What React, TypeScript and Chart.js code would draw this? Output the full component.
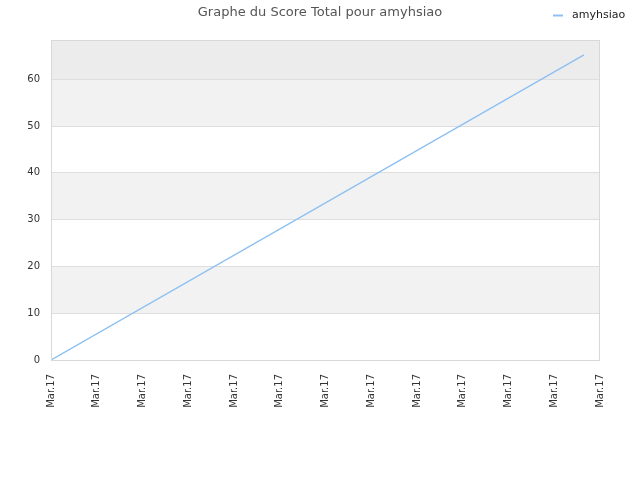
import React, { useEffect, useRef } from "react";
import { Chart, registerables } from "chart.js";

Chart.register(...registerables);

const titleText = "Graphe du Score Total pour amyhsiao";
const seriesName = "amyhsiao";
const tickLabels = [
  "Mar.17", "Mar.17", "Mar.17", "Mar.17", "Mar.17", "Mar.17", "Mar.17",
  "Mar.17", "Mar.17", "Mar.17", "Mar.17", "Mar.17", "Mar.17",
];
const xPositions = [0, 11.65];
const scores = [0, 65.2];
const yMax = 68.4;
const bandEdges = [10, 20, 30, 40, 50, 60];

const FONT = "'DejaVu Sans', sans-serif";
const LINE_COLOR = "#8cc0f2";

const decorPlugin = {
  id: "decor",
  beforeDraw(chart: any) {
    const { ctx, chartArea } = chart;
    const y = chart.scales.y;
    ctx.save();
    ctx.fillStyle = "#ffffff";
    ctx.fillRect(chartArea.left, chartArea.top, chartArea.right - chartArea.left, chartArea.bottom - chartArea.top);
    ctx.fillStyle = "#f2f2f2";
    for (let i = 0; i < bandEdges.length; i += 2) {
      const y1 = y.getPixelForValue(bandEdges[i]);
      const y2 = y.getPixelForValue(bandEdges[i + 1]);
      ctx.fillRect(chartArea.left, y2, chartArea.right - chartArea.left, y1 - y2);
    }
    ctx.fillStyle = "#ececec";
    const yTop = y.getPixelForValue(60);
    ctx.fillRect(chartArea.left, chartArea.top, chartArea.right - chartArea.left, yTop - chartArea.top);
    ctx.restore();
  },
  afterDraw(chart: any) {
    const { ctx, chartArea } = chart;
    ctx.save();
    ctx.strokeStyle = "#d8d8d8";
    ctx.lineWidth = 1;
    ctx.strokeRect(chartArea.left + 0.5, chartArea.top + 0.5, chartArea.right - chartArea.left - 1, chartArea.bottom - chartArea.top);
    // title
    ctx.fillStyle = "#555555";
    ctx.font = `13px ${FONT}`;
    ctx.textAlign = "center";
    ctx.textBaseline = "middle";
    ctx.fillText(titleText, 320, 12.5);
    // legend
    ctx.strokeStyle = LINE_COLOR;
    ctx.lineWidth = 2;
    ctx.beginPath();
    ctx.moveTo(553, 15.5);
    ctx.lineTo(563, 15.5);
    ctx.stroke();
    ctx.fillStyle = "#222222";
    ctx.font = `11px ${FONT}`;
    ctx.textAlign = "left";
    ctx.fillText(seriesName, 572, 15);
    ctx.restore();
  },
};

export default function App() {
  const ref = useRef<HTMLCanvasElement>(null);
  useEffect(() => {
    if (!ref.current) return;
    const chart = new Chart(ref.current, {
      type: "line",
      data: {
        datasets: [
          {
            label: seriesName,
            data: xPositions.map((x, i) => ({ x, y: scores[i] })),
            borderColor: LINE_COLOR,
            borderWidth: 1.4,
            pointRadius: 0,
            fill: false,
            tension: 0,
          },
        ],
      },
      options: {
        responsive: false,
        animation: false,
        devicePixelRatio: 1,
        layout: { padding: { left: 0, top: 40, right: 40, bottom: 0 } },
        plugins: {
          legend: { display: false },
          title: { display: false },
          tooltip: { enabled: false },
        },
        scales: {
          x: {
            type: "linear",
            min: 0,
            max: 12,
            grid: { display: false, drawTicks: false },
            border: { display: false },
            afterFit(scale: any) {
              scale.height = 120;
            },
            ticks: {
              stepSize: 1,
              autoSkip: false,
              minRotation: 90,
              maxRotation: 90,
              padding: 14,
              color: "#333333",
              font: { family: FONT, size: 10 },
              callback: (_v: any, i: number) => tickLabels[i],
            },
          },
          y: {
            min: 0,
            max: yMax,
            grid: { color: "#dedede", drawTicks: false },
            border: { display: false },
            afterFit(scale: any) {
              scale.width = 51;
            },
            ticks: {
              stepSize: 10,
              includeBounds: false,
              padding: 11,
              color: "#333333",
              font: { family: FONT, size: 10 },
            },
          },
        },
      },
      plugins: [decorPlugin],
    });
    return () => chart.destroy();
  }, []);
  return (
    <div style={{ position: "fixed", left: 0, top: 0, width: 640, height: 480, background: "#fff" }}>
      <canvas ref={ref} width={640} height={480} style={{ display: "block" }} />
    </div>
  );
}
